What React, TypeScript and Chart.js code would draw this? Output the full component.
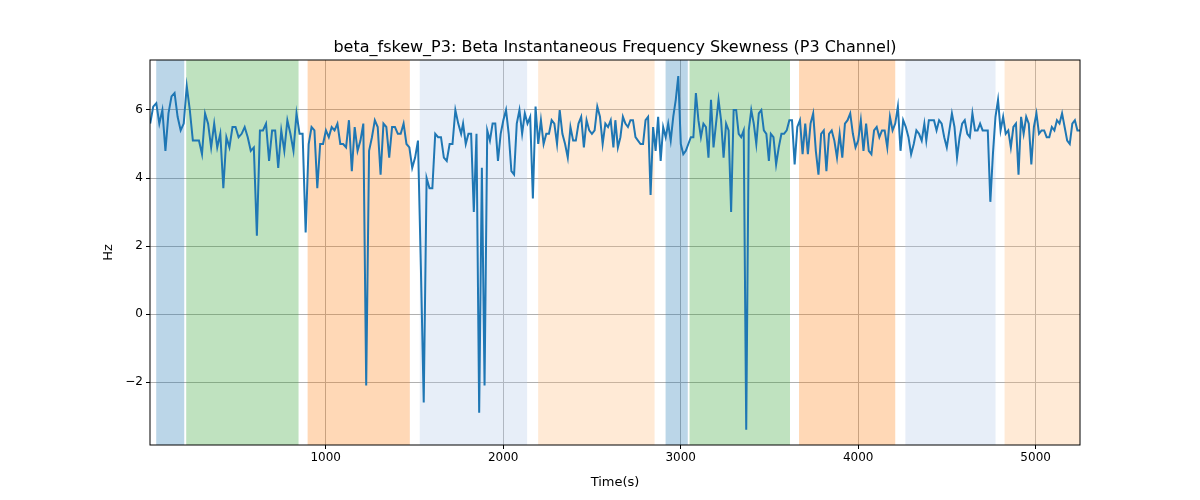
import React, { useEffect, useRef } from "react";
import { Chart, registerables } from "chart.js";
Chart.register(...registerables);

// segments of the series: [startTime, endTime] and values sampled evenly between them
const segTimes: [number, number][] = [
  [11, 887], [904, 1763], [1774, 2621], [2632, 3497], [3508, 4373], [4384, 5250],
];
const seg1 = [5.6,6.1,6.2,5.6,6.0,4.8,5.9,6.4,6.5,5.8,5.4,5.6,6.7,6.0,5.1,5.1,5.1,4.7,5.9,5.6,4.9,5.6,4.9,5.3,3.7,5.2,4.9,5.5,5.5,5.2,5.3,5.5,5.2,4.8,4.9,2.3,5.4,5.4,5.6,4.5,5.4,5.4,4.3,5.4,4.8,5.7,5.3,4.8,5.9,5.3,5.3,2.4];
const seg2 = [5.0,5.5,5.4,3.7,5.0,5.0,5.4,5.2,5.5,5.4,5.6,5.0,5.0,4.9,5.7,4.2,5.5,4.8,5.1,5.6,-2.1,4.8,5.2,5.7,5.5,4.1,5.6,5.5,4.6,5.5,5.5,5.3,5.3,5.6,5.0,4.9,4.3,4.6,5.1,1.4,-2.6,4.0,3.7,3.7,5.3,5.2,5.2,4.6,4.5,5.0,5.0,6.0,5.6,5.3];
const seg3 = [5.6,5.0,5.3,5.3,3.0,5.3,-2.9,4.3,-2.1,5.4,5.1,5.6,5.6,4.5,5.3,5.7,6.0,5.3,4.2,4.1,5.6,6.0,5.3,5.9,5.6,5.8,3.4,6.1,5.0,5.7,5.0,5.3,5.3,5.7,5.6,5.0,6.0,5.3,5.0,4.6,5.5,5.1,5.1,5.6,5.8,4.9,5.7,5.4,5.3,5.4,6.1,5.8,5.0,5.6,5.5,5.7,4.9];
const seg4 = [5.7,4.9,5.2,5.8,5.6,5.5,5.7,5.7,5.2,5.1,5.0,5.0,5.7,5.8,3.5,5.5,4.8,5.8,4.5,5.5,5.2,5.6,5.1,5.8,6.3,7.0,5.0,4.7,4.8,5.0,5.2,5.2,6.5,5.7,5.2,5.6,5.5,4.6,6.3,4.9,5.6,6.3,5.7,4.6,5.6,5.4,3.0,6.0,6.0,5.3,5.2,5.4,-3.4,5.4,6.0,5.6,5.0,5.9,6.0,5.4,5.3,4.5];
const seg5 = [5.3,5.2,4.4,4.9,5.3,5.3,5.4,5.7,5.7,4.4,5.5,5.7,4.7,5.6,4.7,5.6,5.9,4.8,4.1,5.3,5.4,4.2,5.3,5.4,5.1,4.6,5.3,4.6,5.6,5.7,5.9,5.3,4.9,5.1,5.7,4.8,5.6,4.8,4.7,5.4,5.5,5.2,5.4,5.4,4.9,5.8,5.4,5.6,6.1,4.8,5.7,5.5,5.2,4.7,5.0,5.4,5.3,5.1,5.6];
const seg6 = [5.1,5.7,5.7,5.7,5.4,5.7,5.6,5.2,4.9,5.4,5.9,5.5,4.6,5.2,5.6,5.7,5.3,5.2,5.9,5.4,5.4,5.6,5.4,5.4,5.4,3.3,4.7,5.8,6.3,5.4,5.8,5.3,5.4,4.9,5.5,5.6,4.1,5.8,5.3,5.8,5.6,4.4,5.5,5.9,5.3,5.4,5.4,5.2,5.2,5.5,5.4,5.7,5.6,5.9,5.5,5.1,5.0,5.6,5.7,5.4,5.4];
const segValues = [seg1, seg2, seg3, seg4, seg5, seg6];

const spanStarts = [45, 214, 898, 1530, 2197, 2915, 3050, 3667, 4266, 4825];
const spanEnds = [203, 847, 1474, 2135, 2853, 3040, 3616, 4209, 4774, 5250];
const spanColors = [
  "rgba(31,119,180,0.3)", "rgba(44,160,44,0.3)", "rgba(255,127,14,0.3)",
  "rgba(174,199,232,0.3)", "rgba(255,187,120,0.3)",
  "rgba(31,119,180,0.3)", "rgba(44,160,44,0.3)", "rgba(255,127,14,0.3)",
  "rgba(174,199,232,0.3)", "rgba(255,187,120,0.3)",
];
const yTicks = [-2, 0, 2, 4, 6];
const xTicks = [1000, 2000, 3000, 4000, 5000];
const FONT = "'DejaVu Sans', sans-serif";

export default function App() {
  const ref = useRef<HTMLCanvasElement>(null);
  useEffect(() => {
    document.body.style.margin = "0";
    const pts: { x: number; y: number }[] = [];
    segValues.forEach((vals, s) => {
      const [a, b] = segTimes[s];
      vals.forEach((v, i) => pts.push({ x: a + ((b - a) * i) / (vals.length - 1), y: v }));
    });
    const spans = {
      id: "spans",
      beforeDatasetsDraw(c: any) {
        const { ctx, chartArea: ca, scales } = c;
        ctx.save();
        spanStarts.forEach((s, i) => {
          const x0 = scales.x.getPixelForValue(s);
          const x1 = scales.x.getPixelForValue(spanEnds[i]);
          ctx.fillStyle = spanColors[i];
          ctx.fillRect(x0, ca.top, x1 - x0, ca.bottom - ca.top);
        });
        ctx.restore();
      },
      afterDraw(c: any) {
        const { ctx, chartArea: ca } = c;
        ctx.save();
        ctx.strokeStyle = "#000";
        ctx.lineWidth = 1;
        ctx.strokeRect(ca.left, ca.top, ca.right - ca.left, ca.bottom - ca.top);
        ctx.fillStyle = "#000";
        ctx.textAlign = "center";
        ctx.font = `16px ${FONT}`;
        ctx.fillText("beta_fskew_P3: Beta Instantaneous Frequency Skewness (P3 Channel)", (ca.left + ca.right) / 2, 52);
        ctx.font = `13px ${FONT}`;
        ctx.fillText("Time(s)", (ca.left + ca.right) / 2, 486);
        ctx.translate(112, (ca.top + ca.bottom) / 2);
        ctx.rotate(-Math.PI / 2);
        ctx.fillText("Hz", 0, 0);
        ctx.restore();
      },
    };
    const chart = new Chart(ref.current!, {
      type: "line",
      data: { datasets: [{ data: pts, borderColor: "#1f77b4", borderWidth: 2, pointRadius: 0, tension: 0 }] },
      options: {
        animation: false,
        responsive: false,
        layout: { padding: { top: 60, right: 120, left: 0, bottom: 0 } },
        plugins: { legend: { display: false }, tooltip: { enabled: false } },
        scales: {
          x: {
            type: "linear", min: 10, max: 5250,
            afterFit: (s: any) => { s.height = 55; },
            afterBuildTicks: (s: any) => { s.ticks = xTicks.map((v) => ({ value: v })); },
            grid: { color: "#b0b0b0", drawTicks: true, tickLength: 4, tickColor: "#000" },
            border: { display: false },
            ticks: { color: "#000", font: { family: FONT, size: 12 }, maxRotation: 0, padding: 2, callback: (v: any) => String(v) },
          },
          y: {
            min: -3.85, max: 7.47,
            afterFit: (s: any) => { s.width = 150; },
            afterBuildTicks: (s: any) => { s.ticks = yTicks.map((v) => ({ value: v })); },
            grid: { color: "#b0b0b0", tickLength: 4, tickColor: "#000" },
            border: { display: false },
            ticks: { color: "#000", font: { family: FONT, size: 12 }, padding: 3, callback: (v: any) => (v < 0 ? "\u2212" + Math.abs(v) : String(v)) },
          },
        },
      },
      plugins: [spans],
    });
    return () => chart.destroy();
  }, []);
  return <canvas ref={ref} width={1200} height={500} style={{ display: "block" }} />;
}
